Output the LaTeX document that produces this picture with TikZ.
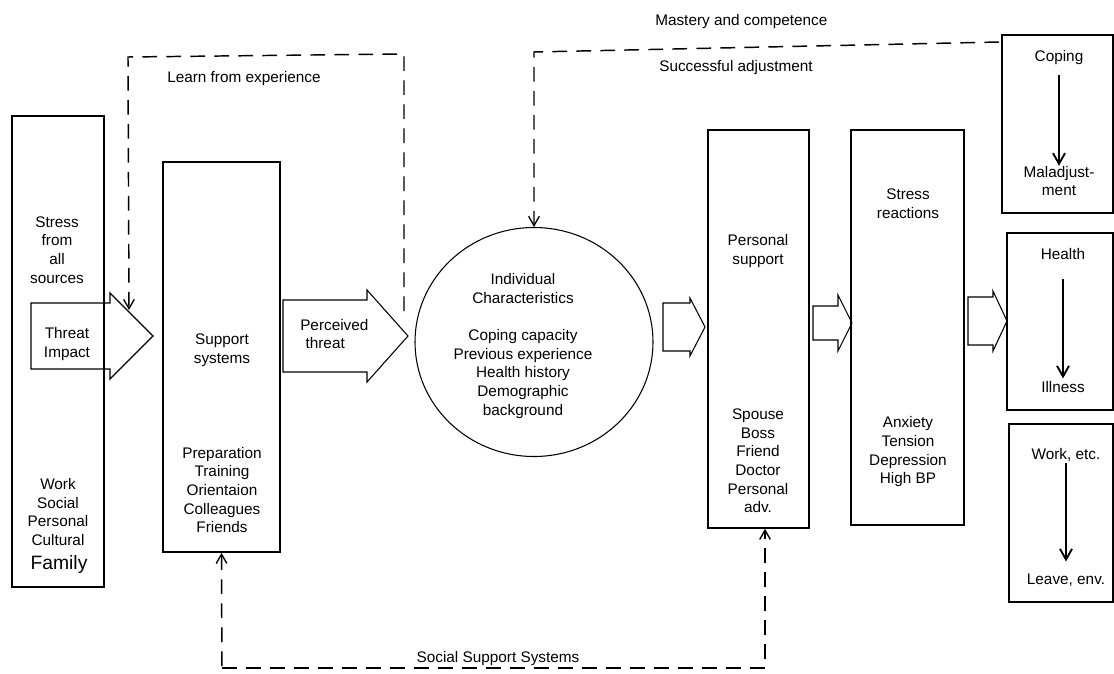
\documentclass[tikz,border=0pt]{standalone}
\usepackage{fontspec}
\setmainfont{Liberation Sans}
\usetikzlibrary{arrows.meta,fit,shapes.geometric}
\begin{document}
\begin{tikzpicture}[x=0.75pt,y=-0.75pt,
 box/.style={draw,line width=1.2pt,inner sep=0pt},
 txt/.style={align=center,font=\fontsize{11.5}{14}\selectfont,inner sep=0pt},
 blockarrow/.style={draw,line width=0.8pt,line join=miter},
 fb/.style={line width=1.1pt,dash pattern=on 11pt off 7pt,-{Straight Barb[length=7pt,width=8pt,line width=1pt]}},
 down/.style={line width=1.4pt,-{Straight Barb[length=8pt,width=9pt,line width=1.4pt]}}
]
\useasboundingbox (0,0) rectangle (1114,674);

% stress sources box
\node[box,fit={(12,116)(104,587)}] (src) {};
\node[txt] (srctop) at (57,250) {Stress\\from\\all\\sources};
\node[txt] (srcbot) at (58,512) {Work\\Social\\Personal\\Cultural};
\node[txt,font=\fontsize{14.5}{16}\selectfont] (fam) at (59,564) {Family};

% threat impact arrow
\draw[blockarrow] (31,303) -- (110,303) -- (110,293) -- (153,336) -- (110,379) -- (110,369) -- (31,369) -- cycle;
\node[txt] (threat) at (67,344) {Threat\\Impact};

% support systems
\node[box,fit={(163,162)(280,552)}] (sup) {};
\node[txt] (suptop) at (222,350) {Support\\systems};
\node[txt] (supbot) at (222,490) {Preparation\\Training\\Orientaion\\Colleagues\\Friends};

% perceived threat arrow
\draw[blockarrow] (283,300) -- (367,300) -- (367,290) -- (408,336) -- (367,382) -- (367,372) -- (283,372) -- cycle;
\node[txt,align=left,anchor=west] (perc) at (300,334) {Perceived\\\hspace*{4pt}threat};

% individual characteristics
\node[draw,ellipse,line width=0.8pt,minimum width=178.5pt,minimum height=171.75pt,inner sep=0pt] (indiv) at (534,342) {};
\node[txt] (indivtxt) at (523,346) {Individual\\Characteristics\\[14pt]Coping capacity\\Previous experience\\Health history\\Demographic\\background};

% small arrow 1
\draw[blockarrow] (663,303) -- (690,303) -- (690,298) -- (705,327) -- (690,356) -- (690,351) -- (663,351) -- cycle;

% personal support
\node[box,fit={(708,130)(809,528)}] (ps) {};
\node[txt] (pstop) at (758,251) {Personal\\support};
\node[txt] (psbot) at (758,461) {Spouse\\Boss\\Friend\\Doctor\\Personal\\adv.};

% small arrow 2
\draw[blockarrow] (813,306) -- (838,306) -- (838,295) -- (852,323) -- (838,351) -- (838,340) -- (813,340) -- cycle;

% stress reactions
\node[box,fit={(851,130)(964,525)}] (sr) {};
\node[txt] (srtop) at (908,204) {Stress\\reactions};
\node[txt] (srbot) at (908,452) {Anxiety\\Tension\\Depression\\High BP};

% small arrow 3
\draw[blockarrow] (968,297) -- (993,297) -- (993,291) -- (1007,321) -- (993,351) -- (993,345) -- (968,345) -- cycle;

% outcome boxes
\node[box,fit={(1002,35)(1113,213)}] (cop) {};
\node[txt] (copt) at (1059,58) {Coping};
\node[txt] (mal) at (1059,181) {Maladjust-\\ment};
\draw[down,shorten <=7pt] (copt) -- (mal);

\node[box,fit={(1007,233)(1113,410)}] (hea) {};
\node[txt] (heat) at (1063,254) {Health};
\node[txt] (ill) at (1063,387) {Illness};
\draw[down,shorten <=14pt,shorten >=2pt] (heat) -- (ill);

\node[box,fit={(1009,424)(1113,602)}] (wk) {};
\node[txt] (wkt) at (1066,455) {Work, etc.};
\node[txt] (lev) at (1066,580) {Leave, env.};
\draw[down,shorten <=1pt,shorten >=9pt] (wkt) -- (lev);

% learn from experience feedback
\coordinate (learnA) at (404,311);
\coordinate (learnB) at (404,54);
\coordinate (learnC) at (128,57);
\coordinate (learnD) at (129,310);
\draw[fb] (learnA) -- (learnB) -- (learnC) -- (learnD);
\node[txt,anchor=west] (learn) at (167,79) {Learn from experience};

% mastery feedback
\coordinate (mA) at (999,42);
\coordinate (mB) at (534,52);
\draw[fb] (mA) -- (mB) -- (indiv.north);
\node[txt,anchor=west] (mast) at (655,22) {Mastery and competence};
\node[txt,anchor=west] (succ) at (659,68) {Successful adjustment};

% social support systems
\coordinate (sA) at (222,690);
\draw[fb] (sA) -- (sup.south);
\coordinate (sL) at (222,668);
\coordinate (sR) at (765,668);
\draw[fb] (sL) -- (sR) -- (sR |- ps.south);
\node[txt] (soc) at (498,659) {Social Support Systems};
\end{tikzpicture}
\end{document}
